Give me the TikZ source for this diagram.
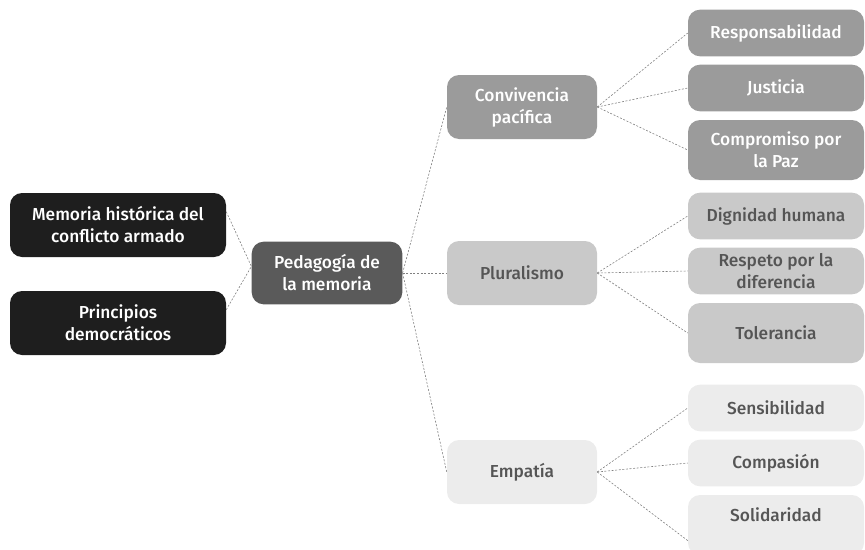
\documentclass[tikz,border=0pt]{standalone}
\usepackage{fontspec}
\setmainfont{Fira Sans}
\newfontfamily\medfont{Fira Sans Medium}
\usepackage{tikz}
\usetikzlibrary{%
	calc,%
	shapes
}
\definecolor{negro}{HTML}{1E1E1E}
\definecolor{grisA}{HTML}{5A5A5A}
\definecolor{grisB}{HTML}{9B9B9B}
\definecolor{grisC}{HTML}{C9C9C9}
\definecolor{grisD}{HTML}{ECECEC}
\definecolor{texto}{HTML}{555555}

\begin{document}
\begin{tikzpicture}[x=0.75pt,y=-0.75pt,
		caja/.style={rounded corners=9pt,align=center,inner sep=2pt,
			font=\medfont\fontsize{13}{16.5}\selectfont},
		base/.style={caja,fill=negro,text=white,minimum width=162pt,minimum height=48pt},
		raiz/.style={caja,fill=grisA,text=white,minimum width=113pt,minimum height=47pt},
		rama/.style={caja,minimum width=112.5pt,minimum height=48pt},
		hoja/.style={caja,minimum width=132pt,minimum height=35pt},
		hojaalta/.style={hoja,minimum height=45pt},
		enlace/.style={dashed,dash pattern=on 1.5pt off 1.2pt,line width=0.45pt,gray}]
			% Marco
			\clip (0,0) rectangle (865,550);
			
			% Origen
			\node[base] (memoria) at (118,225) {Memoria histórica del\\conflicto armado};
			\node[base] (principios) at (118,323) {Principios\\democráticos};
			\node[raiz] (pedagogia) at (327,273) {Pedagogía de\\la memoria};
			
			% Ramas
			\node[rama,fill=grisB,text=white] (convivencia) at (522,107) {Convivencia\\pacífica};
			\node[rama,fill=grisC,text=texto] (pluralismo) at (522,273) {Pluralismo};
			\node[rama,fill=grisD,text=texto] (empatia) at (522,472) {Empatía};
			
			% Hojas
			\node[hoja,fill=grisB,text=white] (responsabilidad) at (776,33) {Responsabilidad};
			\node[hoja,fill=grisB,text=white] (justicia) at (776,88) {Justicia};
			\node[hojaalta,fill=grisB,text=white] (compromiso) at (776,150) {Compromiso por\\la Paz};
			\node[hoja,fill=grisC,text=texto] (dignidad) at (776,216) {Dignidad humana};
			\node[hoja,fill=grisC,text=texto] (respeto) at (776,271) {Respeto por la\\diferencia};
			\node[hojaalta,fill=grisC,text=texto] (tolerancia) at (776,333) {Tolerancia};
			\node[hoja,fill=grisD,text=texto] (sensibilidad) at (776,408) {Sensibilidad};
			\node[hoja,fill=grisD,text=texto] (compasion) at (776,463) {Compasión};
			\node[hojaalta,fill=grisD,text=texto,text depth=15pt] (solidaridad) at (776,525) {Solidaridad};
			
			% Enlaces
			\draw[enlace] (memoria.7) -- (pedagogia.175);
			\draw[enlace] (principios.7) -- (pedagogia.175);
			\foreach \r in {convivencia,pluralismo,empatia}
				\draw[enlace] (pedagogia.east) -- (\r.west);
			\foreach \h in {responsabilidad,justicia,compromiso}
				\draw[enlace] (convivencia.east) -- (\h.west);
			\foreach \h in {dignidad,respeto,tolerancia}
				\draw[enlace] (pluralismo.east) -- (\h.west);
			\foreach \h in {sensibilidad,compasion}
				\draw[enlace] (empatia.east) -- (\h.west);
			\draw[enlace] (empatia.east) -- (solidaridad.190);
		\end{tikzpicture}
\end{document}
